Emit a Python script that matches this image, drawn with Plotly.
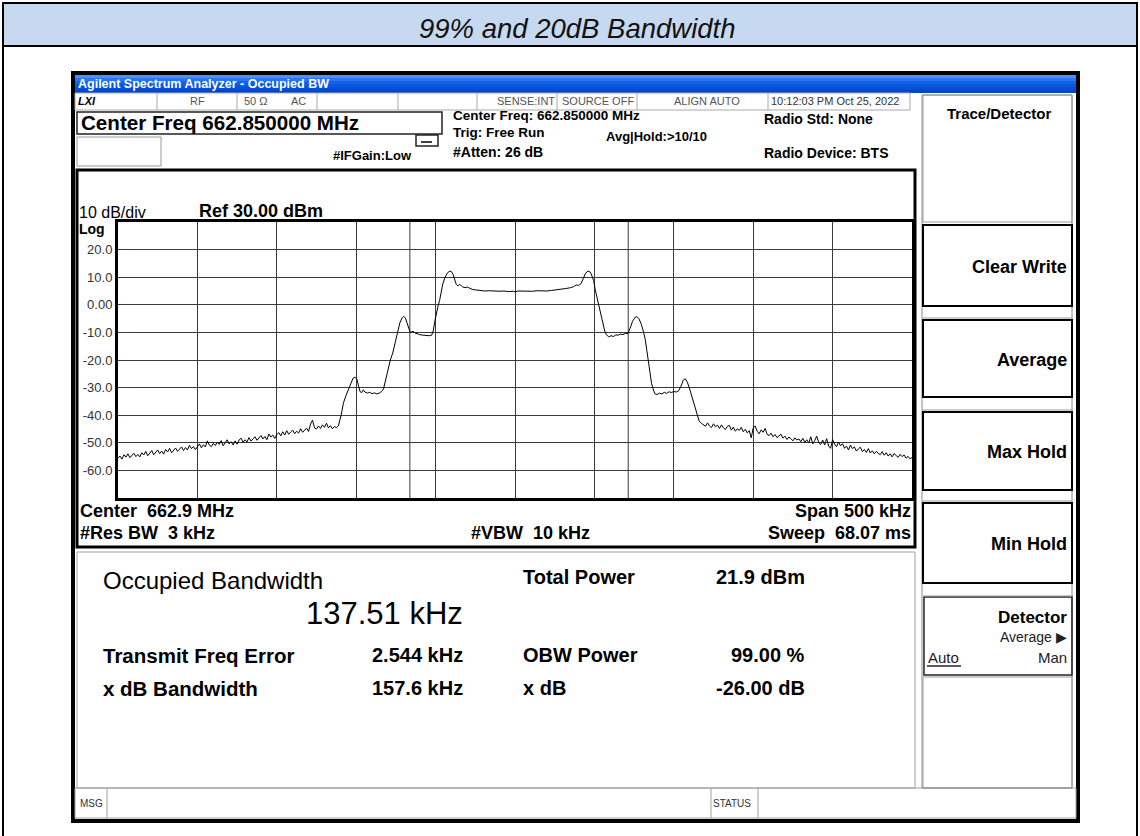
import plotly.graph_objects as go

# ---------------- data ----------------
title_text = "99% and 20dB Bandwidth"
window_title = "Agilent Spectrum Analyzer - Occupied BW"

# left noise floor (kHz offset from centre, dBm)
noise_left_khz = [
    -250, -248.75, -247.5, -246.25, -245, -243.75, -242.5, -241.25, -240, -238.75,
    -237.5, -236.25, -235, -233.75, -232.5, -231.25, -230, -228.75, -227.5, -226.25,
    -225, -223.75, -222.5, -221.25, -220, -218.75, -217.5, -216.25, -215, -213.75,
    -212.5, -211.25, -210, -208.75, -207.5, -206.25, -205, -203.75, -202.5, -201.25,
    -200, -198.75, -197.5, -196.25, -195, -193.75, -192.5, -191.25, -190, -188.75,
    -187.5, -186.25, -185, -183.75, -182.5, -181.25, -180, -178.75, -177.5, -176.25,
    -175, -173.75, -172.5, -171.25, -170, -168.75, -167.5, -166.25, -165, -163.75,
    -162.5, -161.25, -160, -158.75, -157.5, -156.25, -155, -153.75, -152.5, -151.25,
    -150, -148.75, -147.5, -146.25, -145, -143.75, -142.5, -141.25, -140, -138.75,
    -137.5, -136.25, -135, -133.75, -132.5, -131.25, -130, -128.75, -127.5, -126.25,
    -125, -123.75, -122.5, -121.25, -120, -118.75, -117.5, -116.25, -115, -113.75,
    -112.5, -111.25,
]
noise_left_dbm = [
    -55.6, -54.8, -55.9, -54.3, -55.2, -54.0, -55.4, -54.6, -53.8, -55.0,
    -54.2, -55.1, -53.6, -54.4, -53.1, -54.7, -53.9, -52.8, -54.3, -53.5,
    -52.6, -53.9, -53.0, -54.1, -52.4, -53.3, -52.0, -53.6, -52.7, -51.9,
    -53.1, -52.2, -51.5, -52.8, -51.7, -52.6, -50.9, -52.1, -51.4, -52.5,
    -51.2, -50.4, -51.8, -50.7, -51.5, -49.3, -50.8, -51.4, -50.2, -51.0,
    -49.8, -50.6, -49.2, -51.1, -50.0, -48.9, -50.4, -49.6, -50.8, -49.3,
    -50.5, -49.0, -48.3, -49.8, -48.9, -49.7, -48.1, -49.4, -48.6, -47.8,
    -49.1, -48.0, -47.4, -48.6, -47.7, -48.9, -46.8, -47.9, -47.2, -48.4,
    -47.0, -46.3, -47.5, -46.0, -47.2, -45.6, -46.9, -46.1, -45.4, -46.7,
    -45.8, -46.5, -44.9, -46.2, -45.3, -44.7, -45.9, -43.2, -41.8, -44.6,
    -45.0, -43.9, -44.8, -43.5, -44.4, -42.9, -44.6, -43.8, -44.9, -44.1,
    -44.5, -43.9,
]

# occupied signal (kHz offset from centre, dBm)
signal_khz = [
    -109.5, -108, -106.5, -105, -103.5, -102, -100.8, -99.5, -98.5,
    -97.5, -96.5, -95.5, -94.5, -93, -91.5, -90, -88.5, -87, -85.5,
    -84, -82.8, -81.5, -80, -78.5, -77, -75.5, -74, -72.5, -71,
    -70, -69, -68, -67, -66, -65, -64, -63, -62, -60,
    -58, -56, -54, -52.5, -51.5, -50.5, -49.5, -48.5, -47.5, -46.5,
    -45.5, -44, -42.5, -41, -40, -39, -38, -37, -36, -35,
    -34, -33, -31.5, -30, -28.5, -27, -25, -22, -19, -16,
    -13, -10, -7, -4, -1, 0, 2, 5, 8, 11,
    14, 17, 20, 23, 26, 29, 32, 35, 37, 38.5,
    40, 41.5, 43, 44.5, 46, 47.5, 48.5, 49.5, 50.5, 51.5,
    52.5, 53.5, 54.5, 55.5, 56.5, 57.5, 59, 60.5, 62, 63.5,
    65, 66.5, 68, 69.5, 71, 72.5, 74, 75.5, 76.8, 78,
    79.5, 81, 82, 83, 84, 85, 86, 87, 88, 89.5,
    91, 92.5, 94, 95.5, 97, 98.5, 100, 101.5, 103, 104.5,
    106, 107.2, 108.5, 110, 111.5, 113, 114.5, 116, 117.5,
]
signal_dbm = [
    -40.0, -35.5, -33.0, -31.0, -28.5, -26.6, -26.2, -27.0, -29.5,
    -31.5, -31.8, -30.8, -31.6, -32.0, -31.7, -32.2, -31.9, -32.3, -32.0,
    -31.4, -30.5, -27.0, -23.5, -20.0, -17.5, -13.5, -9.5, -6.5, -4.6,
    -4.2, -4.8, -6.5, -9.0, -10.0, -9.8, -9.6, -10.2, -10.5, -10.8,
    -11.0, -11.1, -11.2, -11.0, -9.5, -6.0, -3.0, -0.5, 1.5, 4.5,
    7.5, 10.0, 11.6, 12.2, 12.0, 11.0, 9.0, 7.4, 6.8, 7.4,
    7.0, 6.5, 6.2, 6.4, 6.0, 5.6, 5.4, 5.2, 5.0, 5.1,
    4.9, 4.9, 5.0, 4.8, 4.9, 4.7, 5.0, 4.9, 5.0, 4.9,
    5.1, 5.0, 5.0, 5.2, 5.4, 5.5, 5.9, 6.2, 6.6, 7.2,
    7.0, 7.6, 9.5, 11.5, 12.2, 11.8, 10.4, 8.8, 5.5, 3.0,
    0.0, -3.0, -5.5, -7.5, -9.5, -10.8, -11.6, -11.2, -11.5, -10.9,
    -11.0, -10.6, -10.8, -10.3, -10.5, -8.5, -6.0, -4.6, -4.3, -5.0,
    -7.0, -10.0, -12.5, -16.5, -20.5, -24.5, -28.5, -30.5, -32.2, -32.5,
    -32.0, -32.3, -31.7, -32.1, -31.5, -31.8, -31.4, -31.6, -31.2, -29.5,
    -27.3, -26.8, -28.0, -30.5, -33.5, -36.5, -40.0, -42.2, -43.0,
]

# right noise floor (kHz offset from centre, dBm)
noise_right_khz = [
    118.75, 120, 121.25, 122.5, 123.75, 125, 126.25, 127.5, 128.75, 130,
    131.25, 132.5, 133.75, 135, 136.25, 137.5, 138.75, 140, 141.25, 142.5,
    143.75, 145, 146.25, 147.5, 148.75, 150, 151.25, 152.5, 153.75, 155,
    156.25, 157.5, 158.75, 160, 161.25, 162.5, 163.75, 165, 166.25, 167.5,
    168.75, 170, 171.25, 172.5, 173.75, 175, 176.25, 177.5, 178.75, 180,
    181.25, 182.5, 183.75, 185, 186.25, 187.5, 188.75, 190, 191.25, 192.5,
    193.75, 195, 196.25, 197.5, 198.75, 200, 201.25, 202.5, 203.75, 205,
    206.25, 207.5, 208.75, 210, 211.25, 212.5, 213.75, 215, 216.25, 217.5,
    218.75, 220, 221.25, 222.5, 223.75, 225, 226.25, 227.5, 228.75, 230,
    231.25, 232.5, 233.75, 235, 236.25, 237.5, 238.75, 240, 241.25, 242.5,
    243.75, 245, 246.25, 247.5, 248.75, 250,
]
noise_right_dbm = [
    -43.4, -44.0, -42.8, -43.9, -44.5, -43.1, -44.2, -43.6, -44.8, -43.5,
    -44.6, -45.2, -44.0, -43.7, -45.4, -44.3, -45.8, -44.9, -45.5, -44.4,
    -46.0, -45.1, -46.4, -45.6, -48.2, -44.6, -43.9, -45.8, -46.7, -45.3,
    -46.2, -44.8, -46.9, -47.4, -46.5, -47.8, -47.0, -48.1, -47.5, -46.9,
    -48.3, -47.6, -48.8, -47.9, -48.5, -49.3, -48.2, -49.0, -48.6, -49.6,
    -48.4, -49.8, -48.9, -50.1, -47.8, -50.4, -49.2, -47.6, -49.9, -50.6,
    -49.0, -50.8, -48.5, -51.2, -52.0, -48.9, -50.5, -51.4, -49.7, -51.1,
    -50.3, -52.0, -51.2, -52.6, -50.8, -52.1, -51.5, -53.0, -52.2, -51.6,
    -53.2, -52.4, -53.5, -52.1, -53.7, -52.9, -54.0, -53.1, -53.8, -54.3,
    -53.2, -54.5, -53.6, -54.8, -54.0, -55.1, -53.9, -54.6, -55.3, -54.2,
    -55.0, -54.4, -55.6, -54.9, -55.8, -55.3,
]

y_tick_vals = [20, 10, 0, -10, -20, -30, -40, -50, -60]
y_tick_text = ["20.0", "10.0", "0.00", "-10.0", "-20.0", "-30.0", "-40.0", "-50.0", "-60.0"]
x_grid_vals = [-200, -150, -100, -50, 0, 50, 100, 150, 200]
span_khz = 500
ref_level_dbm = 30
bottom_level_dbm = -70
obw_khz = 137.51
freq_error_khz = 2.544

status_row = ["RF", "50 \u03a9", "AC", "SENSE:INT", "SOURCE OFF", "ALIGN AUTO", "10:12:03 PM Oct 25, 2022"]
softkeys = ["Clear Write", "Average", "Max Hold", "Min Hold"]

results_left = [("Transmit Freq Error", "2.544 kHz"), ("x dB Bandwidth", "157.6 kHz")]
results_right = [("Total Power", "21.9 dBm"), ("OBW Power", "99.00 %"), ("x dB", "-26.00 dB")]

# ---------------- layout helpers ----------------
W, H = 1140, 836
L, R, T, B = 118, 912, 222, 498
FONT = "Liberation Sans, Arial, sans-serif"


def fx(x):
    return (x - L) / (R - L)


def fy(y):
    return (B - y) / (B - T)


shapes = []
annots = []


def rect(x0, y0, x1, y1, color="black", width=1, fill=None, layer="below"):
    shapes.append(dict(type="rect", xref="paper", yref="paper",
                       x0=fx(x0), x1=fx(x1), y0=fy(y1), y1=fy(y0),
                       line=dict(color=color, width=width),
                       fillcolor=fill if fill else "rgba(0,0,0,0)", layer=layer))


def line(x0, y0, x1, y1, color="black", width=1, layer="above"):
    shapes.append(dict(type="line", xref="paper", yref="paper",
                       x0=fx(x0), y0=fy(y0), x1=fx(x1), y1=fy(y1),
                       line=dict(color=color, width=width), layer=layer))


def text(x, y, s, size, anchor="left", bold=False, color="black", italic=False, family=FONT):
    s = s.replace("  ", " \u00a0")
    if bold:
        s = "<b>" + s + "</b>"
    if italic:
        s = "<i>" + s + "</i>"
    annots.append(dict(x=fx(x), y=fy(y), xref="paper", yref="paper", text=s,
                       showarrow=False, xanchor=anchor, yanchor="middle",
                       font=dict(size=size, color=color, family=family), borderpad=0))


# ---------------- page frame & header ----------------
rect(3, 3, 1137, 46, color="black", width=2, fill="#C6D9F0")
line(3, 46, 3, 840, width=2, layer="below")
line(1137, 46, 1137, 840, width=2, layer="below")
text(577, 28, title_text, 27.5, anchor="center", italic=True, color="#111")

# analyzer window frame
rect(73, 73, 1078, 821, color="black", width=4, fill="white")
bar_cols = ["#4A90F8", "#2A75F0", "#1463E6", "#0A58E0", "#054FD8", "#0346CC"]
for i, c in enumerate(bar_cols):
    rect(75, 75 + 3 * i, 1076, 78 + 3 * i, width=0, fill=c)
text(77, 84, window_title, 12.5, bold=True, color="white")

# status row
rect(75, 93, 910, 110, color="#AAAAAA", width=1, fill="white")
for xs in [157, 237, 317, 398, 477, 557, 637, 768]:
    line(xs, 93, xs, 110, color="#AAAAAA")
text(77, 101, "LXI", 11, bold=True, italic=True)
text(197, 101, status_row[0], 11, anchor="center", color="#555")
text(243, 101, status_row[1], 11, color="#555")
text(290, 101, status_row[2], 11, color="#555")
text(556, 101, status_row[3], 11, anchor="right", color="#555")
text(561, 101, status_row[4], 11, color="#555")
text(673, 101, status_row[5], 11, color="#555")
text(770, 101, status_row[6], 11, color="#333")

# upper info block
rect(77, 112, 442, 134, color="#222", width=1.5)
text(80, 123, "Center Freq 662.850000 MHz", 20.6, bold=True)
rect(77, 137, 161, 166, color="#999", width=1)
rect(416, 135, 438, 146, color="#222", width=1.5)
line(421, 142, 432, 142, width=1.5)
text(332, 155, "#IFGain:Low", 13, bold=True)
text(452, 115, "Center Freq: 662.850000 MHz", 13.5, bold=True)
text(452, 132, "Trig: Free Run", 13.5, bold=True)
text(605, 136, "Avg|Hold:>10/10", 13, bold=True)
text(452, 152, "#Atten: 26 dB", 14, bold=True)
text(763, 119, "Radio Std: None", 14, bold=True)
text(763, 153, "Radio Device: BTS", 14, bold=True)

# spectrum region
rect(77, 170, 915, 547, color="black", width=3)
text(78, 212, "10 dB/div", 16)
text(198, 211, "Ref 30.00 dBm", 18, bold=True)
text(78, 229, "Log", 14, bold=True)
text(79, 511, "Center  662.9 MHz", 18, bold=True)
text(912, 511, "Span 500 kHz", 18, anchor="right", bold=True)
text(79, 533, "#Res BW  3 kHz", 18, bold=True)
text(470, 533, "#VBW  10 kHz", 18, bold=True)
text(912, 533, "Sweep  68.07 ms", 18, anchor="right", bold=True)

# results region
rect(77, 552, 915, 788, color="#A0A0A0", width=1)
text(102, 580, "Occupied Bandwidth", 24)
text(464, 613, f"{obw_khz:.2f} kHz", 31, anchor="right")
text(522, 577, results_right[0][0], 20, bold=True)
text(806, 577, results_right[0][1], 20, anchor="right", bold=True)
for (lab, val), yy in zip(results_left, [655, 688]):
    text(102, yy, lab, 20.5, bold=True)
    text(464, yy, val, 20, anchor="right", bold=True)
for (lab, val), yy in zip(results_right[1:], [655, 688]):
    text(522, yy, lab, 20, bold=True)
    text(806, yy, val, 20, anchor="right", bold=True)

# message bar
rect(75, 788, 1076, 818, color="#A0A0A0", width=1)
for xs in [107, 711, 758]:
    line(xs, 788, xs, 818, color="#A0A0A0")
text(79, 803, "MSG", 10, color="#333")
text(712, 803, "STATUS", 10, color="#333")

# softkey panel
rect(922, 95, 1072, 788, color="#888", width=1)
rect(923, 95, 1072, 222, color="#999", width=1)
text(999, 113, "Trace/Detector", 15, anchor="center", bold=True)
for (y0, y1), ysep, lab in zip([(225, 306), (320, 397), (412, 490), (503, 583)],
                               [318, 410, 501, 596], softkeys):
    rect(923, y0, 1072, y1, color="black", width=2)
    line(923, ysep, 1072, ysep, color="#999")
    text(1068, (y0 + y1) / 2 + 1, lab, 18, anchor="right", bold=True)
rect(924, 597, 1072, 675, color="#222", width=1.5)
text(1068, 617, "Detector", 17, anchor="right", bold=True)
text(1068, 637, "Average \u25b6", 14, anchor="right", color="#222")
text(927, 657, "Auto", 15, color="#222")
line(927, 666, 961, 666, color="#222", width=1.5)
text(1068, 657, "Man", 15, anchor="right", color="#222")
rect(923, 677, 1072, 788, color="#999", width=1)

# OBW marker lines (data coordinates)
obw_lo = freq_error_khz - obw_khz / 2
obw_hi = freq_error_khz + obw_khz / 2
for xv in [obw_lo, obw_hi]:
    shapes.append(dict(type="line", xref="x", yref="paper", x0=xv, x1=xv, y0=0, y1=1,
                       line=dict(color="#3a3a3a", width=1), layer="below"))

# ---------------- figure ----------------
trace_x = noise_left_khz + signal_khz + noise_right_khz
trace_y = noise_left_dbm + signal_dbm + noise_right_dbm

fig = go.Figure()
fig.add_trace(go.Scatter(x=trace_x, y=trace_y, mode="lines",
                         line=dict(color="black", width=1), hoverinfo="skip",
                         showlegend=False))
fig.update_layout(
    width=W, height=H, autosize=False,
    margin=dict(l=L, r=W - R, t=T, b=H - B, pad=0),
    paper_bgcolor="white", plot_bgcolor="white",
    shapes=shapes, annotations=annots, showlegend=False,
)
fig.update_xaxes(range=[-span_khz / 2, span_khz / 2], tickvals=x_grid_vals, showticklabels=False,
                 showgrid=True, gridcolor="#3a3a3a", gridwidth=1, zeroline=False,
                 showline=True, mirror=True, linecolor="black", linewidth=3, ticks="")
fig.update_yaxes(range=[bottom_level_dbm, ref_level_dbm], tickvals=y_tick_vals, ticktext=y_tick_text,
                 tickfont=dict(size=13, color="#333", family=FONT),
                 showgrid=True, gridcolor="#3a3a3a", gridwidth=1, zeroline=False,
                 showline=True, mirror=True, linecolor="black", linewidth=3, ticks="")
fig.write_html("out.html", config={"displayModeBar": False},
               post_script="document.body.style.margin='0px';")
